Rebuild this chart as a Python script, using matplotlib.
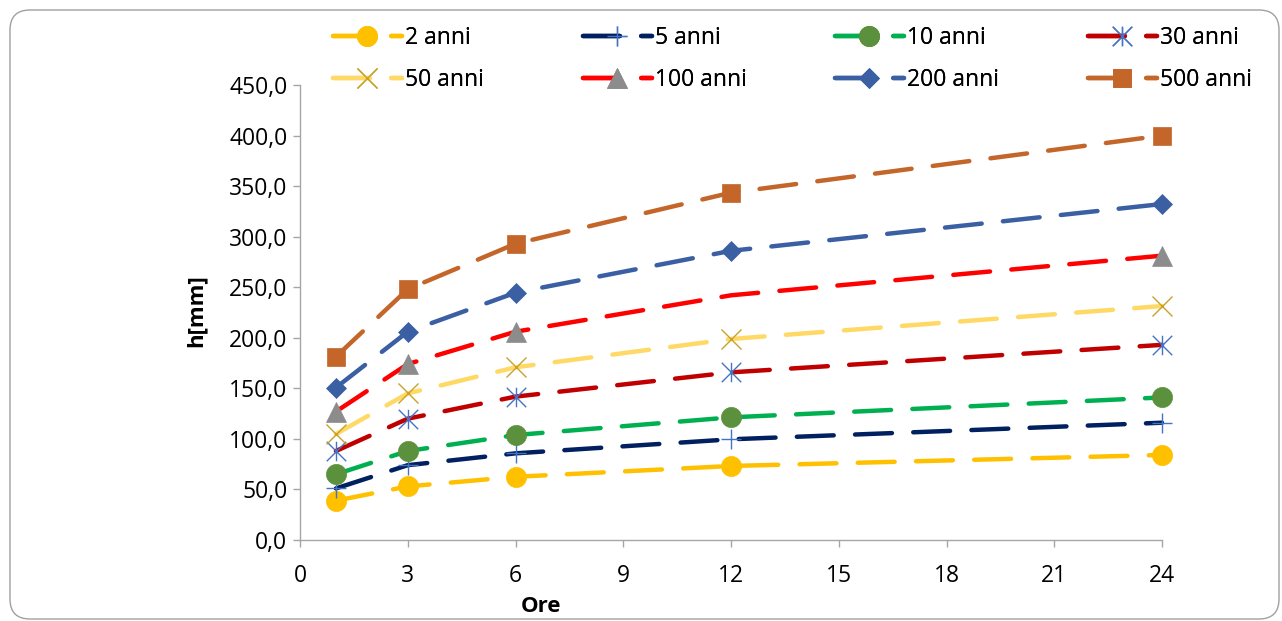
import matplotlib
matplotlib.use('Agg')
import matplotlib.pyplot as plt
from matplotlib.path import Path
from matplotlib.patches import FancyBboxPatch
from matplotlib.ticker import FuncFormatter

plt.rcParams['font.family'] = ['Open Sans', 'DejaVu Sans']

# durata [ore] e altezze di pioggia [mm] per tempo di ritorno
ore    = [1, 3, 6, 12, 24]
h_2    = [38.9, 53.0, 62.5, 73.2, 84.1]
h_5    = [51.0, 74.0, 85.7, 99.6, 116.0]
h_10   = [65.0, 88.0, 103.8, 121.3, 141.0]
h_30   = [88.0, 120.0, 141.8, 165.8, 193.0]
h_50   = [104.8, 145.0, 170.8, 198.8, 231.4]
h_100  = [127.0, 174.0, 206.0, 242.0, 281.2]
h_200  = [150.7, 206.0, 244.6, 286.0, 332.3]
h_500  = [181.3, 248.0, 293.0, 343.5, 400.0]
labels = ['2 anni', '5 anni', '10 anni', '30 anni', '50 anni', '100 anni', '200 anni', '500 anni']
series = [h_2, h_5, h_10, h_30, h_50, h_100, h_200, h_500]

# asterisco stile Excel: X + barra verticale
star = Path([(0, -1), (0, 1), (-1, -1), (1, 1), (-1, 1), (1, -1)],
            [Path.MOVETO, Path.LINETO, Path.MOVETO, Path.LINETO, Path.MOVETO, Path.LINETO])

lineColors   = ['#FFC000', '#002060', '#00B050', '#C00000', '#FFD966', '#FF0000', '#3A5FA3', '#C4652A']
markerColors = ['#FFC000', '#4472C4', '#5B903C', '#4472C4', '#C9A227', '#8C8C8C', '#3A5FA3', '#C4652A']
markers      = ['o', '+', 'o', star, 'x', '^', 'D', 's']
markerSizes  = [14.5, 14, 14.5, 14, 14, 14, 10, 13.5]
everyPoint   = [None, None, None, None, None, [0, 1, 2, 4], None, None]

fig = plt.figure(figsize=(12.82, 6.21), dpi=100)
ax = fig.add_axes([300/1282, 1 - 540/621, 862/1282, 455/621])

handles = []
for y, lab, lc, mc, m, ms, ev in zip(series, labels, lineColors, markerColors, markers, markerSizes, everyPoint):
    thin = m in ('+', 'x') or isinstance(m, Path)
    ln, = ax.plot(ore, y, color=lc, lw=3.2, dashes=(8.3, 4.8), dash_capstyle='round',
                  solid_capstyle='round', marker=m, markersize=ms, markevery=ev,
                  markerfacecolor=mc, markeredgecolor=mc, markeredgewidth=1.0 if thin else 0.5,
                  label=lab, clip_on=False)
    handles.append(ln)

ax.set_xlim(0, 24)
ax.set_ylim(0, 450)
ax.set_xticks(range(0, 25, 3))
ax.set_yticks(range(0, 451, 50))
ax.yaxis.set_major_formatter(FuncFormatter(lambda v, p: ('%.1f' % v).replace('.', ',')))
for s in ['top', 'right']:
    ax.spines[s].set_visible(False)
for s in ['left', 'bottom']:
    ax.spines[s].set_color('#A6A6A6')
    ax.spines[s].set_linewidth(1.0)
ax.tick_params(axis='both', direction='out', length=5, width=1, color='#A6A6A6',
               labelsize=16.5, labelcolor='#000000')
ax.tick_params(axis='x', pad=12)
ax.tick_params(axis='y', pad=4)

fig.text(541/1282, 1 - 607/621, 'Ore', fontsize=16, fontweight='bold', ha='center', va='center')
fig.text(196/1282, 1 - 311/621, 'h[mm]', fontsize=16, fontweight='bold', ha='center', va='center',
         rotation=90)

# legenda: quattro colonne da due voci, disposte per riga
colLeft = [333, 583, 835, 1088]
for c, x0 in enumerate(colLeft):
    idx = [c, c + 4]
    leg = fig.legend([handles[i] for i in idx], [labels[i] for i in idx], loc='upper left',
                     bbox_to_anchor=(x0/1282, 1 - 26/621), frameon=False, fontsize=16.5,
                     numpoints=1, handlelength=3.0, handletextpad=0.15, labelspacing=0.78,
                     borderpad=0, borderaxespad=0)
    fig.add_artist(leg)

frame = FancyBboxPatch((0.10, 0.02), 12.69, 6.09, boxstyle='round,pad=0,rounding_size=0.2',
                       transform=fig.dpi_scale_trans, facecolor='none', edgecolor='#A0A0A0', lw=1.0)
fig.add_artist(frame)

fig.savefig('out.png', dpi=100)
